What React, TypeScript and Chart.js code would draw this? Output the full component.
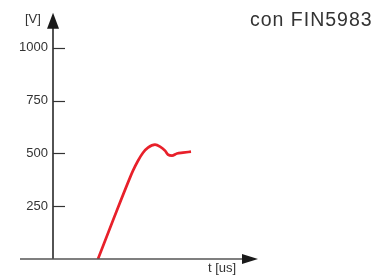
import React, { useEffect, useRef } from "react";
import { Chart, registerables } from "chart.js";

Chart.register(...registerables);

const timeValues = [45, 61, 77, 80, 85, 90, 95, 102, 107, 112, 115, 119, 124, 130, 138];
const voltageValues = [0, 195, 385, 418, 465, 503, 527, 541, 532, 513, 494, 489, 499, 503, 508];
const yTickValues = [250, 500, 750, 1000];
const yAxisLabel = "[V]";
const xAxisLabel = "t [us]";
const chartTitle = "con FIN5983";

const axesPlugin = {
  id: "arrowAxes",
  afterDraw(chart: any) {
    const { ctx, chartArea, scales } = chart;
    const y = scales.y;
    const left = chartArea.left;
    const bottom = y.getPixelForValue(0);
    ctx.save();
    // y axis line
    ctx.strokeStyle = "#1a1a1a";
    ctx.lineWidth = 1.5;
    ctx.beginPath();
    ctx.moveTo(left, chartArea.top + 10);
    ctx.lineTo(left, bottom);
    ctx.stroke();
    // y arrow
    ctx.fillStyle = "#1a1a1a";
    ctx.beginPath();
    ctx.moveTo(left, chartArea.top);
    ctx.lineTo(left - 6, chartArea.top + 16);
    ctx.lineTo(left + 6, chartArea.top + 16);
    ctx.closePath();
    ctx.fill();
    // y tick marks
    ctx.strokeStyle = "#333";
    ctx.lineWidth = 1.2;
    yTickValues.forEach((v) => {
      const py = Math.round(y.getPixelForValue(v)) + 0.5;
      ctx.beginPath();
      ctx.moveTo(left, py);
      ctx.lineTo(left + 12, py);
      ctx.stroke();
    });
    // x axis line
    ctx.strokeStyle = "#555";
    ctx.lineWidth = 1.5;
    ctx.beginPath();
    ctx.moveTo(20, bottom);
    ctx.lineTo(chartArea.right - 12, bottom);
    ctx.stroke();
    // x arrow
    ctx.fillStyle = "#1a1a1a";
    ctx.beginPath();
    ctx.moveTo(chartArea.right, bottom);
    ctx.lineTo(chartArea.right - 16, bottom - 5);
    ctx.lineTo(chartArea.right - 16, bottom + 5);
    ctx.closePath();
    ctx.fill();
    // texts
    ctx.fillStyle = "#333";
    ctx.textBaseline = "middle";
    ctx.textAlign = "left";
    ctx.font = "13px 'Liberation Sans', Arial, sans-serif";
    ctx.fillText(yAxisLabel, 25, 19);
    ctx.fillText(xAxisLabel, 208, 268);
    ctx.font = "19.5px 'Liberation Sans', Arial, sans-serif";
    (ctx as any).letterSpacing = "1px";
    ctx.fillText(chartTitle, 250, 21);
    ctx.restore();
  },
};

export default function App() {
  const canvasRef = useRef<HTMLCanvasElement | null>(null);

  useEffect(() => {
    if (!canvasRef.current) return;
    const chart = new Chart(canvasRef.current, {
      type: "line",
      data: {
        datasets: [
          {
            data: timeValues.map((t, i) => ({ x: t, y: voltageValues[i] })),
            borderColor: "#e8202a",
            borderWidth: 2.7,
            pointRadius: 0,
            cubicInterpolationMode: "monotone",
            fill: false,
          },
        ],
      },
      options: {
        responsive: false,
        animation: false,
        layout: { padding: { left: 0, top: 12, right: 118, bottom: 16 } },
        plugins: { legend: { display: false }, tooltip: { enabled: false } },
        scales: {
          x: { type: "linear", min: 0, max: 205, display: false },
          y: {
            min: 0,
            max: 1165,
            afterFit: (s: any) => {
              s.width = 53;
            },
            afterBuildTicks: (s: any) => {
              s.ticks = yTickValues.map((v) => ({ value: v }));
            },
            ticks: {
              padding: 5,
              color: "#333",
              font: { family: "'Liberation Sans', Arial, sans-serif", size: 13 },
              callback: (v: any) => String(v),
            },
            grid: { display: false, drawTicks: false },
            border: { display: false },
          },
        },
      },
      plugins: [axesPlugin],
    });
    return () => chart.destroy();
  }, []);

  return (
    <div style={{ position: "absolute", left: 0, top: 0, width: 376, height: 275, background: "#fff" }}>
      <canvas ref={canvasRef} width={376} height={275} />
    </div>
  );
}
